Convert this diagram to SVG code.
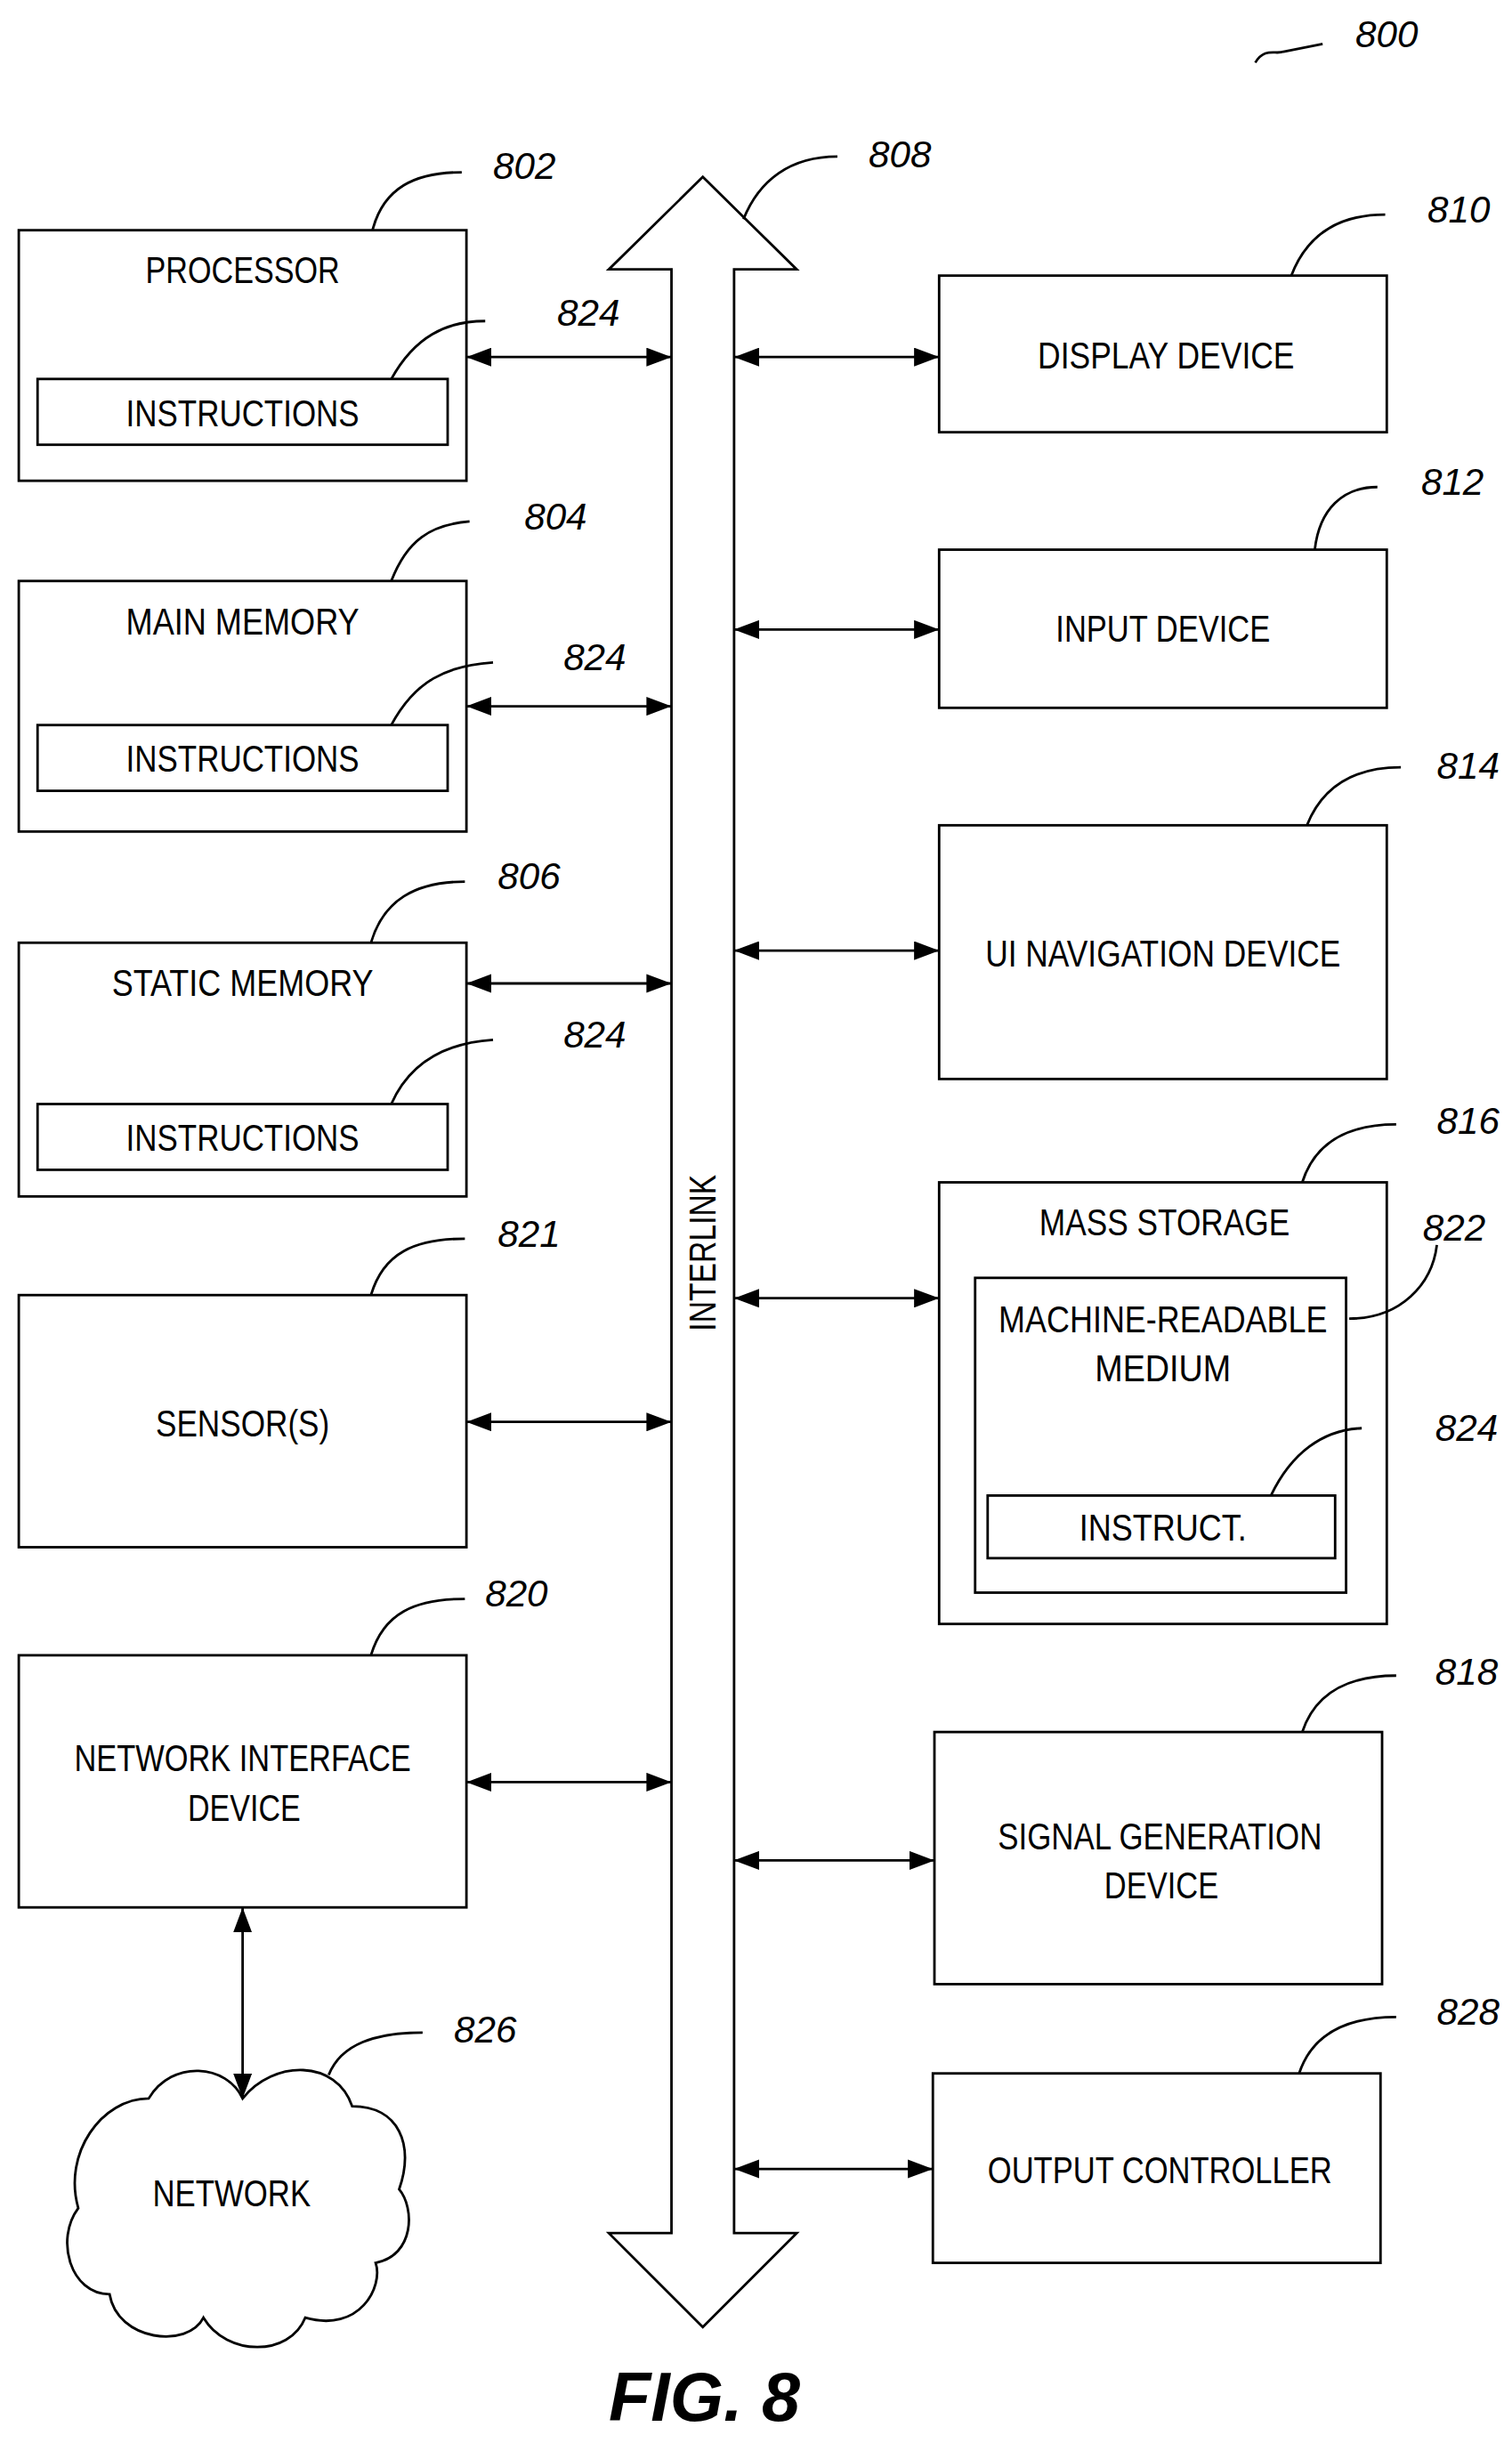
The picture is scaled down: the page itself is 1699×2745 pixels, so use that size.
<svg xmlns="http://www.w3.org/2000/svg" width="1699" height="2745" viewBox="0 0 1699 2745">
<defs>
<marker id="ah" viewBox="0 0 16 12" refX="16" refY="6" markerWidth="16" markerHeight="12" markerUnits="userSpaceOnUse" orient="auto-start-reverse"><path d="M0,0 L16,6 L0,12 Z" fill="#000"/></marker>
</defs>
<style>
.b{fill:#fff;stroke:#000;stroke-width:1.6}
.t{font-family:"Liberation Sans",Arial,sans-serif;font-size:24px;text-anchor:middle}
.n{font-family:"Liberation Sans",Arial,sans-serif;font-size:24px;font-style:italic;text-anchor:middle}
.l{fill:none;stroke:#000;stroke-width:1.6}
.c{stroke:#000;stroke-width:1.6;fill:none;marker-start:url(#ah);marker-end:url(#ah)}
</style>
<rect width="1699" height="2745" fill="#fff"/>
<g transform="scale(1.7588,1.7596)">
<g id="bus">
<polygon class="b" points="449,113 509,172 469,172 469,1426 509,1426 449,1486 389,1426 429,1426 429,172 389,172"/>
<text class="t" transform="translate(457,800) rotate(-90)" textLength="100" lengthAdjust="spacingAndGlyphs">INTERLINK</text>
<path class="l" d="M475,140 C485,115 505,100 535,100"/><text class="n" x="575" y="107" textLength="40" lengthAdjust="spacingAndGlyphs">808</text>
</g>
<g id="fig"><path class="l" d="M802,40 C808,30 815,35 820,33 L845,28"/><text class="n" x="886" y="30" textLength="40" lengthAdjust="spacingAndGlyphs">800</text>
<text x="450" y="1546" style="font-family:'Liberation Sans',Arial,sans-serif;font-size:44px;font-weight:bold;font-style:italic;text-anchor:middle">FIG. 8</text></g>
<g id="n802">
<rect class="b" x="12" y="147" width="286" height="160"/>
<text class="t" x="155" y="181" textLength="124" lengthAdjust="spacingAndGlyphs">PROCESSOR</text>
<rect class="b" x="24" y="242" width="262" height="42"/>
<text class="t" x="155" y="272" textLength="149" lengthAdjust="spacingAndGlyphs">INSTRUCTIONS</text>
<path class="l" d="M238,147 C245,120 265,110 295,110"/><text class="n" x="335" y="114" textLength="40" lengthAdjust="spacingAndGlyphs">802</text>
<path class="l" d="M250,242 C265,215 285,205 310,205"/><text class="n" x="376" y="208" textLength="40" lengthAdjust="spacingAndGlyphs">824</text>
</g>
<g id="n804">
<rect class="b" x="12" y="371" width="286" height="160"/>
<text class="t" x="155" y="405" textLength="149" lengthAdjust="spacingAndGlyphs">MAIN MEMORY</text>
<rect class="b" x="24" y="463" width="262" height="42"/>
<text class="t" x="155" y="493" textLength="149" lengthAdjust="spacingAndGlyphs">INSTRUCTIONS</text>
<path class="l" d="M250,371 C260,345 275,335 300,333"/><text class="n" x="355" y="338" textLength="40" lengthAdjust="spacingAndGlyphs">804</text>
<path class="l" d="M250,463 C265,435 285,425 315,423"/><text class="n" x="380" y="428" textLength="40" lengthAdjust="spacingAndGlyphs">824</text>
</g>
<g id="n806">
<rect class="b" x="12" y="602" width="286" height="162"/>
<text class="t" x="155" y="636" textLength="167" lengthAdjust="spacingAndGlyphs">STATIC MEMORY</text>
<rect class="b" x="24" y="705" width="262" height="42"/>
<text class="t" x="155" y="735" textLength="149" lengthAdjust="spacingAndGlyphs">INSTRUCTIONS</text>
<path class="l" d="M237,602 C245,575 265,563 297,563"/><text class="n" x="338" y="568" textLength="40" lengthAdjust="spacingAndGlyphs">806</text>
<path class="l" d="M250,705 C262,678 285,666 315,664"/><text class="n" x="380" y="669" textLength="40" lengthAdjust="spacingAndGlyphs">824</text>
</g>
<g id="n821">
<rect class="b" x="12" y="827" width="286" height="161"/>
<text class="t" x="155" y="917" textLength="111" lengthAdjust="spacingAndGlyphs">SENSOR(S)</text>
<path class="l" d="M237,827 C245,800 265,791 297,791"/><text class="n" x="338" y="796" textLength="40" lengthAdjust="spacingAndGlyphs">821</text>
</g>
<g id="n820">
<rect class="b" x="12" y="1057" width="286" height="161"/>
<text class="t" x="155" y="1131" textLength="215" lengthAdjust="spacingAndGlyphs">NETWORK INTERFACE</text>
<text class="t" x="156" y="1163" textLength="72" lengthAdjust="spacingAndGlyphs">DEVICE</text>
<path class="l" d="M237,1057 C245,1030 265,1021 297,1021"/><text class="n" x="330" y="1026" textLength="40" lengthAdjust="spacingAndGlyphs">820</text>
</g>
<g id="n826">
<path class="b" d="M155,1340 C145,1318 110,1315 95,1340 C65,1340 40,1375 50,1410 C35,1430 45,1465 70,1465 C75,1495 120,1500 130,1480 C145,1505 185,1505 195,1480 C230,1490 245,1460 240,1445 C265,1440 265,1410 255,1398 C265,1370 255,1345 225,1345 C215,1315 175,1315 155,1340 Z"/>
<text class="t" x="148" y="1409" textLength="101" lengthAdjust="spacingAndGlyphs">NETWORK</text>
<path class="l" d="M210,1325 C218,1305 240,1298 270,1298"/><text class="n" x="310" y="1304" textLength="40" lengthAdjust="spacingAndGlyphs">826</text>
</g>
<g id="n810">
<rect class="b" x="600" y="176" width="286" height="100"/>
<text class="t" x="745" y="235" textLength="164" lengthAdjust="spacingAndGlyphs">DISPLAY DEVICE</text>
<path class="l" d="M825,176 C835,150 855,137 885,137"/><text class="n" x="932" y="142" textLength="40" lengthAdjust="spacingAndGlyphs">810</text>
</g>
<g id="n812">
<rect class="b" x="600" y="351" width="286" height="101"/>
<text class="t" x="743" y="410" textLength="137" lengthAdjust="spacingAndGlyphs">INPUT DEVICE</text>
<path class="l" d="M840,351 C843,325 858,311 880,311"/><text class="n" x="928" y="316" textLength="40" lengthAdjust="spacingAndGlyphs">812</text>
</g>
<g id="n814">
<rect class="b" x="600" y="527" width="286" height="162"/>
<text class="t" x="743" y="617" textLength="227" lengthAdjust="spacingAndGlyphs">UI NAVIGATION DEVICE</text>
<path class="l" d="M835,527 C845,502 865,490 895,490"/><text class="n" x="938" y="497" textLength="40" lengthAdjust="spacingAndGlyphs">814</text>
</g>
<g id="n816">
<rect class="b" x="600" y="755" width="286" height="282"/>
<text class="t" x="744" y="789" textLength="160" lengthAdjust="spacingAndGlyphs">MASS STORAGE</text>
<path class="l" d="M832,755 C840,730 860,718 892,718"/><text class="n" x="938" y="724" textLength="40" lengthAdjust="spacingAndGlyphs">816</text>
<g id="n822">
<rect class="b" x="623" y="816" width="237" height="201"/>
<text class="t" x="743" y="851" textLength="210" lengthAdjust="spacingAndGlyphs">MACHINE-READABLE</text>
<text class="t" x="743" y="882" textLength="87" lengthAdjust="spacingAndGlyphs">MEDIUM</text>
<path class="l" d="M862,842 C895,842 915,820 918,795"/><text class="n" x="929" y="792" textLength="40" lengthAdjust="spacingAndGlyphs">822</text>
</g>
<rect class="b" x="631" y="955" width="222" height="40"/>
<text class="t" x="743" y="984" textLength="107" lengthAdjust="spacingAndGlyphs">INSTRUCT.</text>
<path class="l" d="M812,955 C825,928 845,913 870,912"/><text class="n" x="937" y="920" textLength="40" lengthAdjust="spacingAndGlyphs">824</text>
</g>
<g id="n818">
<rect class="b" x="597" y="1106" width="286" height="161"/>
<text class="t" x="741" y="1181" textLength="207" lengthAdjust="spacingAndGlyphs">SIGNAL GENERATION</text>
<text class="t" x="742" y="1212" textLength="73" lengthAdjust="spacingAndGlyphs">DEVICE</text>
<path class="l" d="M832,1106 C840,1082 860,1070 892,1070"/><text class="n" x="937" y="1076" textLength="40" lengthAdjust="spacingAndGlyphs">818</text>
</g>
<g id="n828">
<rect class="b" x="596" y="1324" width="286" height="121"/>
<text class="t" x="741" y="1394" textLength="220" lengthAdjust="spacingAndGlyphs">OUTPUT CONTROLLER</text>
<path class="l" d="M830,1324 C838,1300 858,1288 892,1288"/><text class="n" x="938" y="1293" textLength="40" lengthAdjust="spacingAndGlyphs">828</text>
</g>
<g id="connectors">
<line class="c" x1="298" y1="228" x2="429" y2="228"/>
<line class="c" x1="298" y1="451" x2="429" y2="451"/>
<line class="c" x1="298" y1="628" x2="429" y2="628"/>
<line class="c" x1="298" y1="908" x2="429" y2="908"/>
<line class="c" x1="298" y1="1138" x2="429" y2="1138"/>
<line class="c" x1="469" y1="228" x2="600" y2="228"/>
<line class="c" x1="469" y1="402" x2="600" y2="402"/>
<line class="c" x1="469" y1="607" x2="600" y2="607"/>
<line class="c" x1="469" y1="829" x2="600" y2="829"/>
<line class="c" x1="469" y1="1188" x2="597" y2="1188"/>
<line class="c" x1="469" y1="1385" x2="596" y2="1385"/>
<line class="c" x1="155" y1="1218" x2="155" y2="1340"/>
</g>
</g>
</svg>
